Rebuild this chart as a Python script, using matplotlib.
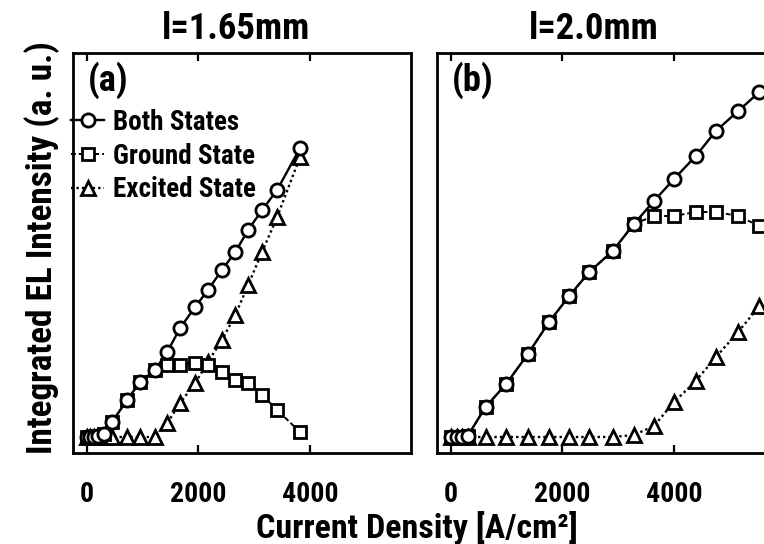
import matplotlib
matplotlib.use("Agg")
import matplotlib.pyplot as plt
import matplotlib.font_manager as fm

# current density [A/cm^2] and integrated EL intensity (a.u.)
J_a = [0, 60, 130, 200, 300, 450, 720, 950, 1220, 1440, 1670, 1940, 2170, 2420, 2660, 2890, 3140, 3410, 3820]
both_a = [0, 0, 0, 0.1, 0.3, 1.5, 3.7, 5.5, 6.7, 8.5, 10.9, 13.0, 14.7, 16.7, 18.5, 20.7, 22.7, 24.7, 28.9]
ground_a = [0, 0, 0, 0.1, 0.3, 1.5, 3.7, 5.5, 6.7, 7.2, 7.2, 7.4, 7.2, 6.5, 5.7, 5.4, 4.2, 2.7, 0.5]
excited_a = [0, 0, 0, 0, 0, 0, 0, 0, 0, 1.4, 3.4, 5.4, 7.5, 9.7, 12.2, 15.2, 18.5, 22.0, 28.0]

J_b = [0, 100, 200, 300, 620, 990, 1380, 1760, 2120, 2480, 2900, 3280, 3640, 4000, 4390, 4750, 5150, 5530]
both_b = [0, 0, 0, 0.1, 3.0, 5.3, 8.3, 11.5, 14.1, 16.5, 18.6, 21.3, 23.6, 25.8, 28.1, 30.6, 32.6, 34.5]
ground_b = [0, 0, 0, 0.1, 3.0, 5.3, 8.3, 11.5, 14.1, 16.5, 18.6, 21.3, 22.1, 22.1, 22.5, 22.5, 22.1, 21.1]
excited_b = [0, 0, 0, 0, 0, 0, 0, 0, 0, 0, 0, 0.2, 1.1, 3.5, 5.6, 8.0, 10.5, 13.1]

titles = ["l=1.65mm", "l=2.0mm"]
panel_tags = ["(a)", "(b)"]
series_names = ["Both States", "Ground State", "Excited State"]
xticks = [0, 2000, 4000]
xlabel = "Current Density [A/cm²]"
ylabel = "Integrated EL Intensity (a. u.)"


# the original lettering is a narrow bold sans, look for something close
def pick_font():
    def is_bold(f):
        w = f.weight
        if isinstance(w, str):
            w = fm.weight_dict.get(w, 400)
        return w >= 600

    bold = [f for f in fm.fontManager.ttflist if is_bold(f)]
    for name in ["Liberation Sans Narrow", "Roboto Condensed", "Open Sans Condensed",
                 "Noto Sans Condensed", "Arial Narrow"]:
        for f in bold:
            if f.name == name:
                return f.fname
    for stretch in ["condensed", "semi-condensed"]:
        for f in bold:
            if f.stretch == stretch and f.name in ("Noto Sans", "Roboto", "Open Sans", "Liberation Sans", "Lato"):
                return f.fname
    return None


path = pick_font()


def fp(size):
    if path:
        return fm.FontProperties(fname=path, size=size)
    return fm.FontProperties(family=["Liberation Sans", "DejaVu Sans"], weight="bold", size=size)


W, H = 764, 544
fig = plt.figure(figsize=(W / 100, H / 100), dpi=100)

# scale all lettering so the x label is as wide as in the original
probe = fig.text(0, 0, xlabel, fontproperties=fp(27))
k = 347 / probe.get_window_extent(renderer=fig.canvas.get_renderer()).width
probe.remove()


def box(x0, y0, x1, y1):
    return [x0 / W, 1 - y1 / H, (x1 - x0) / W, (y1 - y0) / H]


ax_a = fig.add_axes(box(73, 53, 411, 453))
ax_b = fig.add_axes(box(437, 53, 775, 453))

style_both = dict(color="black", ls="-", lw=1.7, marker="o", ms=9.5, mfc="white", mew=2.0)
style_ground = dict(color="black", ls=(0, (2.5, 1.5)), lw=1.4, marker="s", ms=8, mfc="white", mew=2.0)
style_exc = dict(color="black", ls=(0, (1, 1.3)), lw=1.7, marker="^", ms=9.5, mfc="white", mew=2.0)

data = [(ax_a, J_a, both_a, ground_a, excited_a), (ax_b, J_b, both_b, ground_b, excited_b)]
for i, (ax, J, b, g, e) in enumerate(data):
    l_e, = ax.plot(J, e, **style_exc)
    l_g, = ax.plot(J, g, **style_ground)
    l_b, = ax.plot(J, b, **style_both)
    ax.set_xlim(-250, 5810)
    ax.set_ylim(-1.6, 38.4)
    ax.set_xticks(xticks)
    ax.set_xticklabels([str(t) for t in xticks], fontproperties=fp(20.5 * k))
    ax.set_yticks([])
    ax.tick_params(axis="x", direction="in", top=True, length=6, width=1.6, pad=20)
    for sp in ax.spines.values():
        sp.set_linewidth(2.0)
    ax.text(0.043, 0.932, panel_tags[i], transform=ax.transAxes, fontproperties=fp(27 * k),
            va="center", ha="left")
    if i == 0:
        ax.legend([l_b, l_g, l_e], series_names, loc="upper left",
                  bbox_to_anchor=(-0.005, 0.86), frameon=False,
                  handlelength=1.2, handletextpad=0.35, labelspacing=0.24,
                  borderaxespad=0, borderpad=0, prop=fp(20 * k))

fig.text(236 / W, 1 - 29 / H, titles[0], ha="center", va="center", fontproperties=fp(27 * k))
fig.text(594 / W, 1 - 29 / H, titles[1], ha="center", va="center", fontproperties=fp(27 * k))
fig.text(417 / W, 1 - 538 / H, xlabel, ha="center", va="baseline", fontproperties=fp(25 * k))
fig.text(42 / W, 1 - 248 / H, ylabel, ha="center", va="center", rotation=90,
         fontproperties=fp(26 * k))

fig.savefig("out.png", dpi=100)
